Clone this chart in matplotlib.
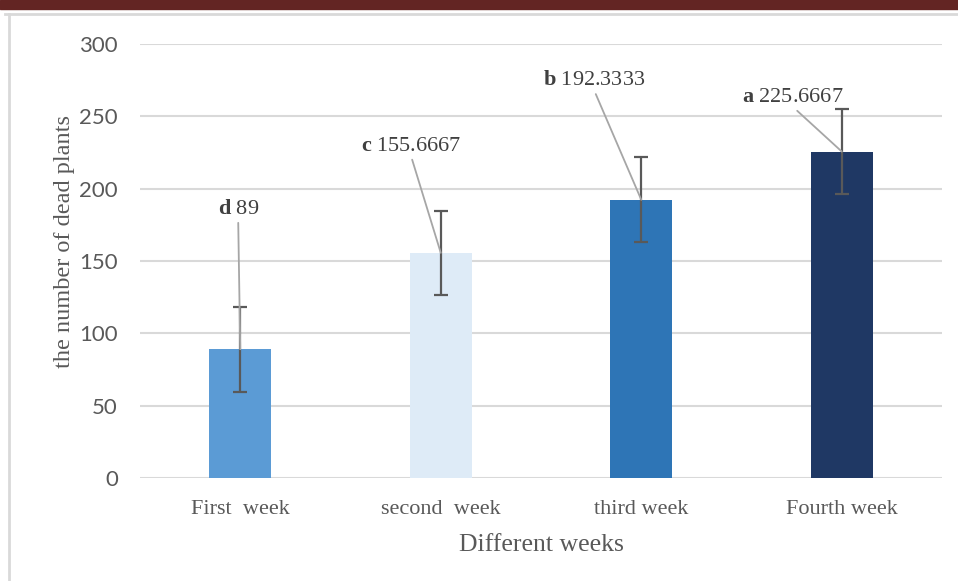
import matplotlib.pyplot as plt
from matplotlib.patches import Rectangle
from matplotlib.lines import Line2D

weeks = ['First  week', 'second  week', 'third week', 'Fourth week']
dead_plants = [89, 155.6667, 192.3333, 225.6667]
errors = [29.5, 29.0, 29.5, 29.5]
letters = ['d', 'c', 'b', 'a']
value_text = ['89', '155.6667', '192.3333', '225.6667']

bar_colours = ['#5B9BD5', '#DEEBF7', '#2E75B6', '#1F3864']
# label offsets from the top of each bar, in points
label_offsets = [(-1.5, 94), (-21.5, 70), (-34, 79), (-35, 32)]

plt.rcParams['mathtext.fontset'] = 'custom'
plt.rcParams['mathtext.rm'] = 'Liberation Serif'
plt.rcParams['mathtext.bf'] = 'Liberation Serif:bold'

fig = plt.figure(figsize=(9.58, 5.81), dpi=100)

# page decoration: dark red strip and light frame
fig.patches.append(Rectangle((0, 1 - 9 / 581), 1, 9 / 581, transform=fig.transFigure,
                             color='#632523', zorder=0))
fig.lines.append(Line2D([5 / 958, 1], [1 - 14 / 581, 1 - 14 / 581], transform=fig.transFigure,
                        color='#D9D9D9', lw=2))
fig.lines.append(Line2D([9 / 958, 9 / 958], [0, 1 - 14 / 581], transform=fig.transFigure,
                        color='#D9D9D9', lw=2))

ax = fig.add_axes([140 / 958, (581 - 478) / 581, (942 - 140) / 958, (478 - 44) / 581])

x = range(len(weeks))
ax.bar(x, dead_plants, width=0.31, color=bar_colours, zorder=2)
ax.errorbar(x, dead_plants, yerr=errors, fmt='none', ecolor='#595959', elinewidth=1.6,
            capsize=5, capthick=1.6, zorder=3)

for i in x:
    ax.annotate(r'$\mathbf{' + letters[i] + '}$ ' + value_text[i],
                xy=(i, dead_plants[i]), xytext=label_offsets[i], textcoords='offset points',
                ha='center', va='bottom', fontsize=16, family='Liberation Serif', color='#404040',
                arrowprops=dict(arrowstyle='-', color='#A6A6A6', lw=1.3, shrinkA=1, shrinkB=0,
                                relpos=(0.5, 0)),
                zorder=4)

ax.set_xlim(-0.5, 3.5)
ax.set_ylim(0, 300)
ax.set_yticks(range(0, 301, 50))
ax.set_xticks(list(x))
ax.set_xticklabels(weeks, family='Liberation Serif', fontsize=16, color='#595959')
for lab in ax.get_yticklabels():
    lab.set_family('Lato')
    lab.set_fontsize(16)
    lab.set_color('#595959')
ax.tick_params(axis='both', length=0)
ax.tick_params(axis='y', pad=16)
ax.tick_params(axis='x', pad=15.5)

ax.grid(axis='y', color='#D9D9D9', lw=1.5, zorder=0)
ax.set_axisbelow(True)
for s in ax.spines.values():
    s.set_visible(False)

ax.set_ylabel('the number of dead plants', family='Liberation Serif', fontsize=17.5,
              color='#595959')
ax.yaxis.set_label_coords(-0.081, 0.546)
ax.set_xlabel('Different weeks', family='Liberation Serif', fontsize=18.5,
              color='#595959', labelpad=11)

fig.savefig('out.png', dpi=100)
